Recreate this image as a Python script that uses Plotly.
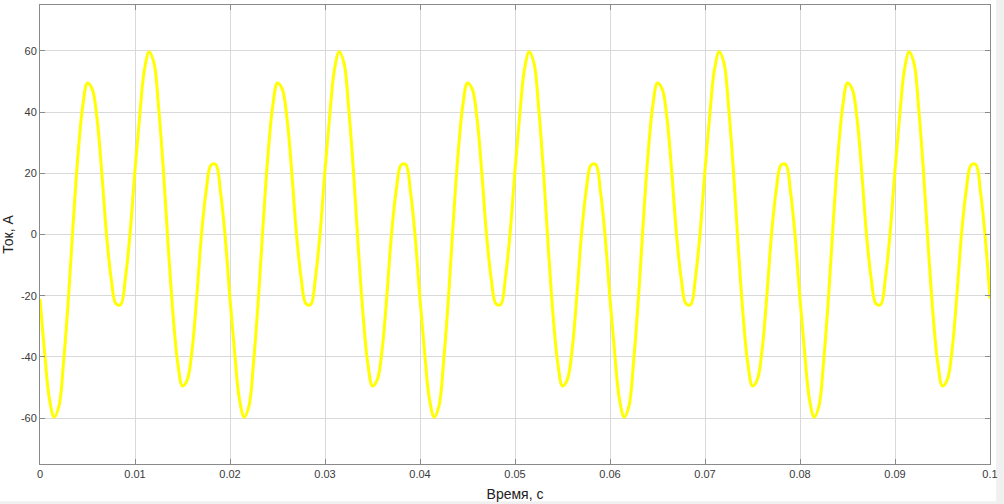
import plotly.graph_objects as go

# Time samples (milliseconds), every 0.5 ms over 0..100 ms
time_ms = [
    0.0, 0.5, 1.0, 1.5, 2.0, 2.5, 3.0, 3.5, 4.0, 4.5, 5.0, 5.5, 6.0, 6.5, 7.0, 7.5, 8.0, 8.5, 9.0, 9.5,
    10.0, 10.5, 11.0, 11.5, 12.0, 12.5, 13.0, 13.5, 14.0, 14.5, 15.0, 15.5, 16.0, 16.5, 17.0, 17.5, 18.0, 18.5, 19.0, 19.5,
    20.0, 20.5, 21.0, 21.5, 22.0, 22.5, 23.0, 23.5, 24.0, 24.5, 25.0, 25.5, 26.0, 26.5, 27.0, 27.5, 28.0, 28.5, 29.0, 29.5,
    30.0, 30.5, 31.0, 31.5, 32.0, 32.5, 33.0, 33.5, 34.0, 34.5, 35.0, 35.5, 36.0, 36.5, 37.0, 37.5, 38.0, 38.5, 39.0, 39.5,
    40.0, 40.5, 41.0, 41.5, 42.0, 42.5, 43.0, 43.5, 44.0, 44.5, 45.0, 45.5, 46.0, 46.5, 47.0, 47.5, 48.0, 48.5, 49.0, 49.5,
    50.0, 50.5, 51.0, 51.5, 52.0, 52.5, 53.0, 53.5, 54.0, 54.5, 55.0, 55.5, 56.0, 56.5, 57.0, 57.5, 58.0, 58.5, 59.0, 59.5,
    60.0, 60.5, 61.0, 61.5, 62.0, 62.5, 63.0, 63.5, 64.0, 64.5, 65.0, 65.5, 66.0, 66.5, 67.0, 67.5, 68.0, 68.5, 69.0, 69.5,
    70.0, 70.5, 71.0, 71.5, 72.0, 72.5, 73.0, 73.5, 74.0, 74.5, 75.0, 75.5, 76.0, 76.5, 77.0, 77.5, 78.0, 78.5, 79.0, 79.5,
    80.0, 80.5, 81.0, 81.5, 82.0, 82.5, 83.0, 83.5, 84.0, 84.5, 85.0, 85.5, 86.0, 86.5, 87.0, 87.5, 88.0, 88.5, 89.0, 89.5,
    90.0, 90.5, 91.0, 91.5, 92.0, 92.5, 93.0, 93.5, 94.0, 94.5, 95.0, 95.5, 96.0, 96.5, 97.0, 97.5, 98.0, 98.5, 99.0, 99.5,
    100.0,
]

# Current values (A)
current_a = [
    -21, -39, -54, -59.7, -56, -41, -20.5, 4, 26, 42, 49.5, 47.5, 38, 20.5, 0, -14.5, -22.7, -22.9, -14, 1,
    21, 39, 54, 59.7, 56, 41, 20.5, -4, -26, -42, -49.5, -47.5, -38, -20.5, 0, 14.5, 22.7, 22.9, 14, -1,
    -21, -39, -54, -59.7, -56, -41, -20.5, 4, 26, 42, 49.5, 47.5, 38, 20.5, 0, -14.5, -22.7, -22.9, -14, 1,
    21, 39, 54, 59.7, 56, 41, 20.5, -4, -26, -42, -49.5, -47.5, -38, -20.5, 0, 14.5, 22.7, 22.9, 14, -1,
    -21, -39, -54, -59.7, -56, -41, -20.5, 4, 26, 42, 49.5, 47.5, 38, 20.5, 0, -14.5, -22.7, -22.9, -14, 1,
    21, 39, 54, 59.7, 56, 41, 20.5, -4, -26, -42, -49.5, -47.5, -38, -20.5, 0, 14.5, 22.7, 22.9, 14, -1,
    -21, -39, -54, -59.7, -56, -41, -20.5, 4, 26, 42, 49.5, 47.5, 38, 20.5, 0, -14.5, -22.7, -22.9, -14, 1,
    21, 39, 54, 59.7, 56, 41, 20.5, -4, -26, -42, -49.5, -47.5, -38, -20.5, 0, 14.5, 22.7, 22.9, 14, -1,
    -21, -39, -54, -59.7, -56, -41, -20.5, 4, 26, 42, 49.5, 47.5, 38, 20.5, 0, -14.5, -22.7, -22.9, -14, 1,
    21, 39, 54, 59.7, 56, 41, 20.5, -4, -26, -42, -49.5, -47.5, -38, -20.5, 0, 14.5, 22.7, 22.9, 14, -1,
    -21,
]

x_tickvals = [0, 0.01, 0.02, 0.03, 0.04, 0.05, 0.06, 0.07, 0.08, 0.09, 0.1]
x_ticktext = ["0", "0.01", "0.02", "0.03", "0.04", "0.05", "0.06", "0.07", "0.08", "0.09", "0.1"]
y_tickvals = [-60, -40, -20, 0, 20, 40, 60]
y_ticktext = ["-60", "-40", "-20", "0", "20", "40", "60"]

x_title = "Время, с"
y_title = "Ток, А"

time_s = [t / 1000.0 for t in time_ms]

fig = go.Figure()
fig.add_trace(go.Scatter(
    x=time_s, y=current_a, mode="lines",
    line=dict(color="#FFFF00", width=3, shape="spline", smoothing=1.0),
    hoverinfo="skip", showlegend=False,
))

font_family = "Liberation Sans, Arial, Helvetica, sans-serif"
axis_common = dict(
    showgrid=True, gridcolor="#d9d9d9", gridwidth=1,
    showline=True, linecolor="#8a8a8a", linewidth=1, mirror="ticks",
    ticks="inside", ticklen=5, tickcolor="#8a8a8a", tickwidth=1,
    zeroline=False,
    tickfont=dict(family=font_family, size=11, color="#3a3a3a"),
)

fig.update_layout(
    width=1004, height=504,
    margin=dict(l=40, r=14, t=5, b=40),
    paper_bgcolor="white", plot_bgcolor="white",
    font=dict(family=font_family, color="#222222"),
    hovermode=False,
    xaxis=dict(range=[0, 0.1], tickvals=x_tickvals, ticktext=x_ticktext,
               title=dict(text=x_title, font=dict(size=14, family=font_family, color="#222222"), standoff=9),
               **axis_common),
    yaxis=dict(range=[-75, 75], tickvals=y_tickvals, ticktext=y_ticktext,
               title=dict(text=y_title, font=dict(size=14, family=font_family, color="#222222"), standoff=4),
               **axis_common),
    shapes=[
        dict(type="rect", xref="paper", yref="paper", x0=1.0065, x1=1.03, y0=-0.2, y1=1.1,
             fillcolor="#f0f0f0", line=dict(width=0), layer="below"),
        dict(type="rect", xref="paper", yref="paper", x0=-0.1, x1=1.03, y0=-0.2, y1=-0.081,
             fillcolor="#f0f0f0", line=dict(width=0), layer="below"),
    ],
)

fig.write_html("out.html", config={"displayModeBar": False},
               post_script="document.body.style.margin='0';")
